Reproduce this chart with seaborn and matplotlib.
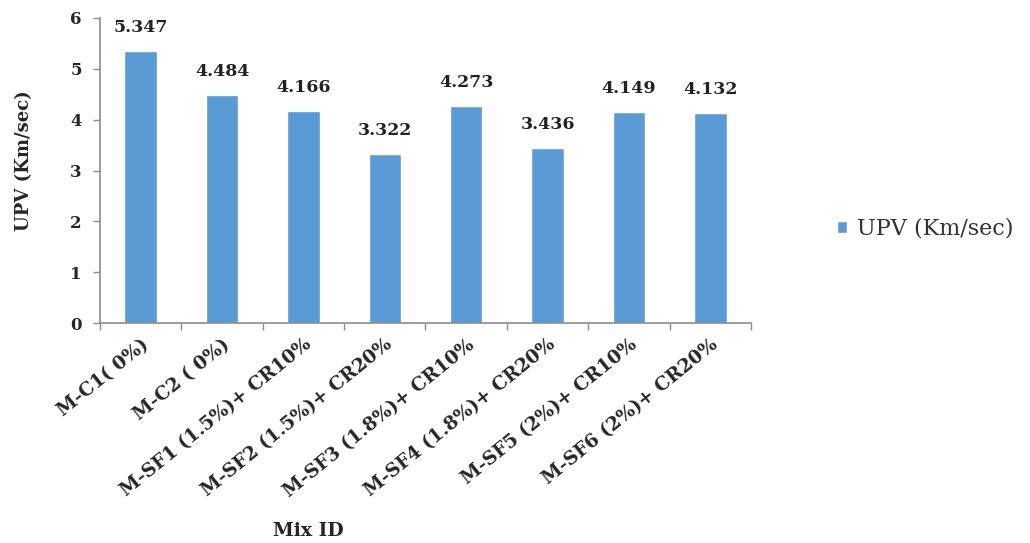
import matplotlib
matplotlib.use("Agg")
import matplotlib.pyplot as plt
import seaborn as sns
import pandas as pd

mix_ids = [
    "M-C1( 0%)",
    "M-C2 ( 0%)",
    "M-SF1 (1.5%)+ CR10%",
    "M-SF2 (1.5%)+ CR20%",
    "M-SF3 (1.8%)+ CR10%",
    "M-SF4 (1.8%)+ CR20%",
    "M-SF5 (2%)+ CR10%",
    "M-SF6 (2%)+ CR20%",
]
upv = [5.347, 4.484, 4.166, 3.322, 4.273, 3.436, 4.149, 4.132]
series_name = "UPV (Km/sec)"
y_ticks = [0, 1, 2, 3, 4, 5, 6]

sns.set_theme(style="white")
plt.rcParams["font.family"] = ["DejaVu Serif", "Liberation Serif"]

df = pd.DataFrame({"Mix ID": mix_ids, series_name: upv, "series": series_name})

fig = plt.figure(figsize=(10.3, 5.43), dpi=100)
ax = fig.add_axes([100 / 1030, 1 - 323 / 543, 651 / 1030, 305 / 543])

bar_color = "#5B9BD5"
sns.barplot(data=df, x="Mix ID", y=series_name, hue="series",
            palette=[bar_color], saturation=1, width=0.4, ax=ax, legend=True)

ax.set_ylim(0, 6)
ax.set_xlim(-0.5, len(mix_ids) - 0.5)
ax.set_yticks(y_ticks)
ax.set_yticklabels([str(t) for t in y_ticks], fontsize=12, fontweight="bold")

ax.set_xticks(range(len(mix_ids)))
ax.set_xticklabels(mix_ids, rotation=39, ha="right", rotation_mode="anchor",
                   fontsize=13.5, fontweight="bold")

# category boundary ticks on the x axis, as in a spreadsheet chart
ax.set_xticks([i - 0.5 for i in range(len(mix_ids) + 1)], minor=True)
ax.tick_params(axis="x", which="major", length=0, pad=9)
ax.tick_params(axis="x", which="minor", length=5, width=1, color="#8c8c8c",
               direction="out", bottom=True)
ax.tick_params(axis="y", which="major", length=5, width=1, color="#8c8c8c",
               direction="out", left=True, pad=8)

for side in ["top", "right"]:
    ax.spines[side].set_visible(False)
for side in ["left", "bottom"]:
    ax.spines[side].set_color("#8c8c8c")
    ax.spines[side].set_linewidth(1.2)

ax.set_ylabel(series_name, fontsize=13, fontweight="bold")
ax.yaxis.set_label_coords(-0.103, 0.534)
ax.set_xlabel("Mix ID", fontsize=13.5, fontweight="bold")
ax.xaxis.set_label_coords(0.32, -0.652)

for i, v in enumerate(upv):
    ax.annotate(f"{v:.3f}", (i, v), xytext=(0, 11), textcoords="offset points",
                ha="center", va="bottom", fontsize=12.5, fontweight="bold",
                color="#222222")

leg = ax.legend(loc="center left", bbox_to_anchor=(1.132, 0.31), frameon=False,
                fontsize=16, handlelength=0.45, handleheight=0.45,
                handletextpad=0.45, borderaxespad=0, borderpad=0)
for t in leg.get_texts():
    t.set_color("#333333")

fig.savefig("out.png", dpi=100, facecolor="white")
